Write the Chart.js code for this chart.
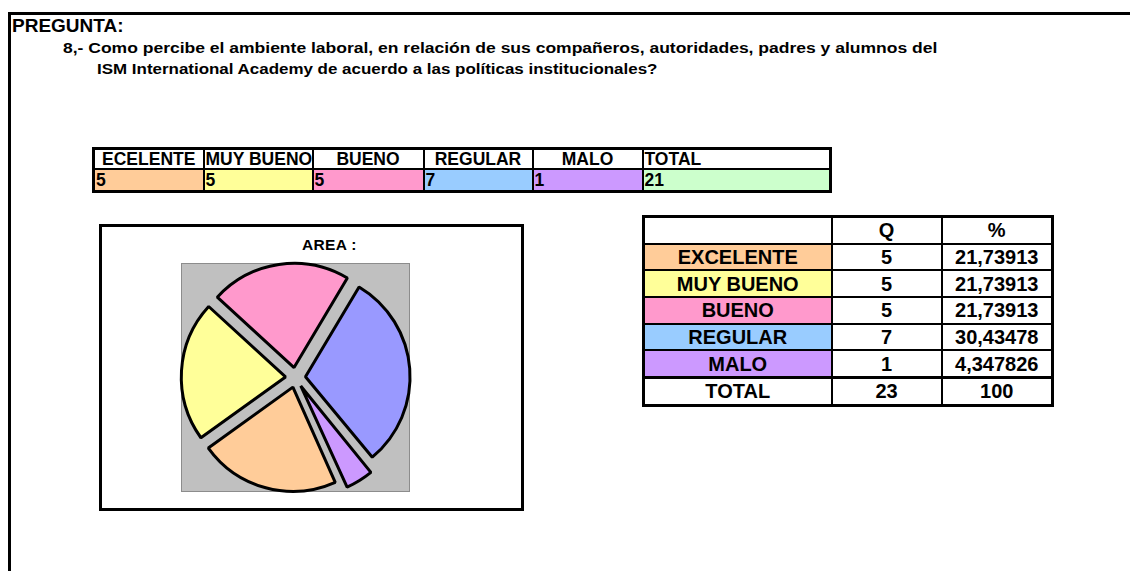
<!DOCTYPE html>
<html>
<head>
<meta charset="utf-8">
<script src="https://cdn.jsdelivr.net/npm/chart.js@4/dist/chart.umd.min.js"></script>
<style>
  body { margin: 0; background: #fff; font-family: Arial, "Liberation Sans", sans-serif; font-weight: bold; color: #000; }
  .page { position: relative; width: 1130px; height: 571px; overflow: hidden; }
  .frame { position: absolute; left: 8px; top: 12px; width: 1130px; height: 600px; border-left: 3px solid #000; border-top: 3px solid #000; }
  .pregunta { position: absolute; left: 12px; top: 15px; font-size: 19px; }
  .q { position: absolute; font-size: 14px; white-space: nowrap; transform-origin: 0 0; transform: scaleX(1.25); }
  .q1 { left: 63px; top: 40px; }
  .q2 { left: 97px; top: 61px; transform: scaleX(1.21); }
  table { border-collapse: collapse; position: absolute; table-layout: fixed; }
  .top { left: 92px; top: 147px; border: 3px solid #000; font-size: 17.5px; }
  .top td { border: 2px solid #000; padding: 0 1px; line-height: 17px; height: 18px; overflow: visible; white-space: nowrap; }
  .top td.h { text-align: center; background: #fff; }
  .top td.l { text-align: left; }
  .top td.v { height: 20px; }
  .side { left: 642px; top: 215px; border: 3px solid #000; font-size: 20px; }
  .side td { border: 2px solid #000; text-align: center; height: 24.7px; line-height: 22px; padding: 0; white-space: nowrap; }
  .side tr.tot td { border-top: 3px solid #000; }
  .box { position: absolute; left: 99px; top: 224px; width: 419px; height: 281px; border: 3px solid #000; }
  .area { position: absolute; left: 200px; top: 9px; font-size: 15.5px; letter-spacing: 0.3px; }
  .plotbg { position: absolute; left: 182px; top: 264px; width: 227px; height: 227px; background: #c0c0c0; outline: 1px solid #8c8c8c; }
  .plot { position: absolute; left: 172px; top: 254px; width: 247px; height: 247px; }
</style>
</head>
<body>
<div class="page">
  <div class="frame"></div>
  <div class="pregunta">PREGUNTA:</div>
  <div class="q q1">8,- Como percibe el ambiente laboral, en relación de sus compañeros, autoridades, padres y alumnos del</div>
  <div class="q q2">ISM International Academy de acuerdo a las políticas institucionales?</div>

  <table class="top" id="topTable"></table>
  <table class="side" id="sideTable"></table>

  <div class="box"><div class="area">AREA :</div></div>
  <div class="plotbg"></div>
  <div class="plot"><canvas id="pie"></canvas></div>
</div>

<script>
/* ===================== DATA ===================== */

// header row of the small table above the chart (typo kept as in the sheet)
const topLabels = ["ECELENTE", "MUY BUENO", "BUENO", "REGULAR", "MALO", "TOTAL"];
const topValues = ["5", "5", "5", "7", "1", "21"];

const categories = ["EXCELENTE", "MUY BUENO", "BUENO", "REGULAR", "MALO"];
const counts = [5, 5, 5, 7, 1];
const percents = ["21,73913", "21,73913", "21,73913", "30,43478", "4,347826"];
const totalCount = "23";
const totalPercent = "100";

const cellColors = ["#ffcc99", "#ffff99", "#ff99cc", "#99ccff", "#cc99ff", "#ccffcc"];
const sliceColors = ["#ffcc99", "#ffff99", "#ff99cc", "#9999ff", "#cc99ff"];

/* ===================== TABLES ===================== */

const topWidths = [110, 109, 111, 109, 110, 188];
const topTable = document.getElementById("topTable");
let cols = "", head = "<tr>", vals = "<tr>";
topLabels.forEach((l, i) => {
  cols += `<col style="width:${topWidths[i]}px">`;
  const cls = i === 1 || i === 5 ? "h l" : "h";
  head += `<td class="${cls}">${l}</td>`;
  vals += `<td class="v" style="background:${cellColors[i]}">${topValues[i]}</td>`;
});
topTable.style.width = topWidths.reduce((a, b) => a + b, 0) + "px";
topTable.innerHTML = cols + head + "</tr>" + vals + "</tr>";

const sideTable = document.getElementById("sideTable");
let rows = `<col style="width:188px"><col style="width:110px"><col style="width:111px">`;
rows += `<tr><td style="background:#fff"></td><td>Q</td><td>%</td></tr>`;
categories.forEach((c, i) => {
  rows += `<tr><td style="background:${cellColors[i]}">${c}</td><td>${counts[i]}</td><td>${percents[i]}</td></tr>`;
});
rows += `<tr class="tot"><td>TOTAL</td><td>${totalCount}</td><td>${totalPercent}</td></tr>`;
sideTable.style.width = "409px";
sideTable.innerHTML = rows;

/* ===================== CHART ===================== */

// exploded pie: Chart.js draws arcs shifted by offset/4, radius is set by hand
new Chart(document.getElementById("pie"), {
  type: "pie",
  data: {
    labels: categories,
    datasets: [
      {
        data: counts,
        backgroundColor: sliceColors,
        borderColor: "#000",
        borderWidth: 3,
        offset: 40,
        hoverOffset: 0,
        radius: 104,
      },
    ],
  },
  options: {
    responsive: true,
    maintainAspectRatio: false,
    animation: false,
    rotation: 156,
    plugins: { legend: { display: false }, tooltip: { enabled: false } },
  },
});
</script>
</body>
</html>
